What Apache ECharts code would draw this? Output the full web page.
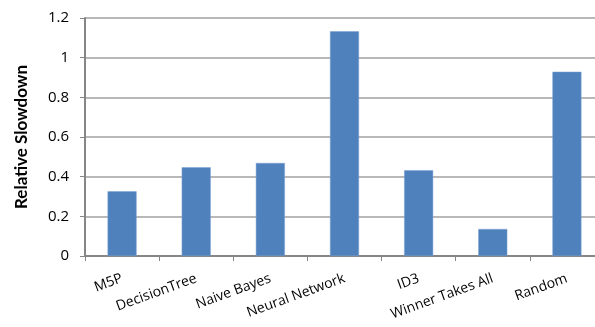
<!DOCTYPE html>
<html>
<head>
<meta charset="utf-8">
<script src="https://cdn.jsdelivr.net/npm/echarts@6/dist/echarts.min.js"></script>
<style>
  html, body { margin: 0; padding: 0; background: #fff; overflow: hidden; }
  /* the original plot is cut off at the right edge, so the canvas is a little wider than the window */
  #chart { width: 610px; height: 327px; }
</style>
</head>
<body>
<div id="chart"></div>
<script>
// categories and values
const categories = ['M5P', 'DecisionTree', 'Naive Bayes', 'Neural Network', 'ID3', 'Winner Takes All', 'Random'];
const slowdown = [0.326, 0.447, 0.469, 1.133, 0.432, 0.136, 0.929];

let ec = echarts.init(document.getElementById('chart'));

let option = {
  animation: false,
  grid: {
    left: 85,
    top: 18,
    right: 6,
    bottom: 71
  },
  xAxis: {
    type: 'category',
    data: categories,
    axisLine: { lineStyle: { color: '#868686', width: 2 } },
    axisTick: { show: true, length: 5, lineStyle: { color: '#868686', width: 1 } },
    axisLabel: {
      rotate: 20,
      interval: 0,
      margin: 22,
      fontFamily: 'Open Sans',
      fontSize: 14,
      color: '#000'
    }
  },
  yAxis: {
    type: 'value',
    min: 0,
    max: 1.2,
    interval: 0.2,
    name: 'Relative Slowdown',
    nameLocation: 'middle',
    nameGap: 55,
    nameTextStyle: {
      fontFamily: 'Lato',
      fontWeight: 'bold',
      fontSize: 17,
      color: '#000'
    },
    axisLine: { show: true, lineStyle: { color: '#868686', width: 2 } },
    axisTick: { show: true, length: 5, lineStyle: { color: '#868686' } },
    splitLine: { lineStyle: { color: '#a0a0a0', width: 1.5 } },
    axisLabel: {
      margin: 16,
      fontFamily: 'Open Sans',
      fontSize: 15,
      color: '#000',
      formatter: function (v) { return String(Math.round(v * 10) / 10); }
    }
  },
  series: [
    {
      type: 'bar',
      data: slowdown,
      barWidth: 29,
      itemStyle: { color: '#4f81bd', borderColor: '#7aa0d0', borderWidth: 0.5 }
    }
  ]
};

ec.setOption(option);
</script>
</body>
</html>
